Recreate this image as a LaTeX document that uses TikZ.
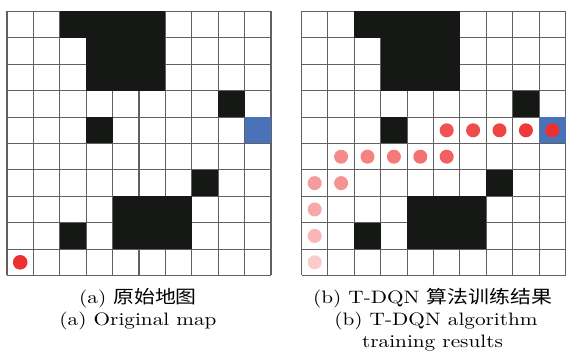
\documentclass[tikz,border=0pt]{standalone}
\usepackage{fontspec}
\setmainfont{lmroman10-regular}[Extension=.otf,FakeStretch=1.18]
\newfontfamily\cjk{Noto Sans CJK SC}[FakeStretch=1.16]
\definecolor{obst}{HTML}{161815}
\definecolor{goalblue}{HTML}{4A72B8}
\definecolor{dotred}{HTML}{EC2F2F}
\tikzset{
  obstacle/.style={fill=obst},
  goalcell/.style={fill=goalblue},
  gridline/.style={draw=black!62,line width=1.1pt},
  caption/.style={font=\fontsize{18}{22}\selectfont,inner sep=0pt,anchor=base},
}
\newcommand{\cs}{26.4}
\newcommand{\mapcells}{%
  \foreach \r/\c in {0/2,0/3,0/4,0/5,1/3,1/4,1/5,2/3,2/4,2/5,3/8,4/3,6/7,7/4,7/5,7/6,8/2,8/4,8/5,8/6}
    {\fill[obstacle] (\c*\cs,\r*\cs) rectangle ({(\c+1)*\cs},{(\r+1)*\cs});}
  \fill[goalcell] (9*\cs,4*\cs) rectangle (10*\cs,5*\cs);
}
\newcommand{\maplines}{%
  \foreach \i in {0,...,10}{
    \draw[gridline] (\i*\cs,0) -- (\i*\cs,10*\cs);
    \draw[gridline] (0,\i*\cs) -- (10*\cs,\i*\cs);
  }
}
\begin{document}
\begin{tikzpicture}[x=1pt,y=-1pt]
\useasboundingbox (0,0) rectangle (566,352);
% left map
\begin{scope}[shift={(7,11.5)}]
  \maplines
  \mapcells
  \fill[dotred] (0.5*\cs,9.5*\cs) circle (7.3);
\end{scope}
% right map
\begin{scope}[shift={(301.5,11.5)}]
  \maplines
  \mapcells
  \foreach \r/\c/\k in {9/0/25,8/0/35,7/0/42,6/0/48,6/1/52,5/1/56,5/2/60,5/3/64,5/4/68,5/5/76,4/5/82,4/6/86,4/7/90,4/8/95,4/9/100}
    {\fill[dotred!\k!white] ({(\c+0.5)*\cs},{(\r+0.5)*\cs}) circle (7);}
\end{scope}
\node[caption] (ca1) at (138,303.5) {(a) {\cjk 原始地图}};
\node[caption] (ca2) at (138,325.5) {(a) Original map};
\node[caption] (cb1) at (432.5,303.5) {(b) T-DQN {\cjk 算法训练结果}};
\node[caption] (cb2) at (436,325.5) {(b) T-DQN algorithm};
\node[caption] (cb3) at (432.5,348) {training results};
\end{tikzpicture}
\end{document}
